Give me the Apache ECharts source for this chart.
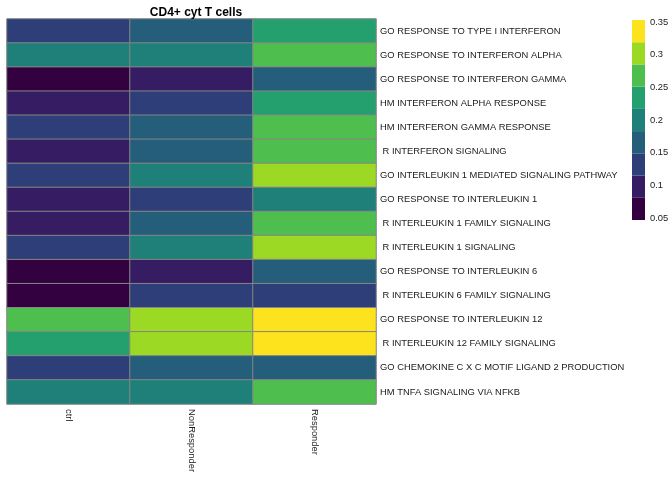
<!DOCTYPE html>
<html>
<head>
<meta charset="utf-8">
<script src="https://cdn.jsdelivr.net/npm/echarts@6/dist/echarts.min.js"></script>
<style>
  html, body { margin: 0; padding: 0; background: #fff; }
  #main { width: 672px; height: 480px; }
</style>
</head>
<body>
<div id="main"></div>
<script>
// columns / rows
var groups = ['ctrl', 'NonResponder', 'Responder'];
var pathways = [
  'GO RESPONSE TO TYPE I INTERFERON',
  'GO RESPONSE TO INTERFERON ALPHA',
  'GO RESPONSE TO INTERFERON GAMMA',
  'HM INTERFERON ALPHA RESPONSE',
  'HM INTERFERON GAMMA RESPONSE',
  ' R INTERFERON SIGNALING',
  'GO INTERLEUKIN 1 MEDIATED SIGNALING PATHWAY',
  'GO RESPONSE TO INTERLEUKIN 1',
  ' R INTERLEUKIN 1 FAMILY SIGNALING',
  ' R INTERLEUKIN 1 SIGNALING',
  'GO RESPONSE TO INTERLEUKIN 6',
  ' R INTERLEUKIN 6 FAMILY SIGNALING',
  'GO RESPONSE TO INTERLEUKIN 12',
  ' R INTERLEUKIN 12 FAMILY SIGNALING',
  'GO CHEMOKINE C X C MOTIF LIGAND 2 PRODUCTION',
  'HM TNFA SIGNALING VIA NFKB'
];
// scores per group (same order as pathways)
var ctrlVals = [0.135, 0.205, 0.062, 0.100, 0.140, 0.095, 0.135, 0.098, 0.100, 0.138, 0.070, 0.066, 0.265, 0.235, 0.130, 0.210];
var nonRespVals = [0.170, 0.200, 0.105, 0.128, 0.165, 0.158, 0.198, 0.125, 0.162, 0.195, 0.102, 0.132, 0.298, 0.292, 0.155, 0.205];
var respVals = [0.238, 0.265, 0.160, 0.232, 0.262, 0.258, 0.300, 0.210, 0.268, 0.296, 0.168, 0.130, 0.345, 0.340, 0.160, 0.272];
// colour breaks + legend labels
var breaks = [0.047, 0.081, 0.115, 0.149, 0.183, 0.217, 0.251, 0.285, 0.319, 0.353];
var legendTicks = [0.05, 0.1, 0.15, 0.2, 0.25, 0.3, 0.35];
var palette = ['#330040', '#361c63', '#2e3e78', '#245e7a', '#1f7f79', '#24a06e', '#4ebf4f', '#9cd925', '#fce31e'];

var font = 'Liberation Sans, Arial, sans-serif';
var cols = [ctrlVals, nonRespVals, respVals];
var cells = [];
cols.forEach(function (arr, c) {
  arr.forEach(function (v, r) { cells.push([c, r, v]); });
});
var pieces = [], legendData = [];
for (var i = 0; i < palette.length; i++) {
  pieces.push({ gte: breaks[i], lt: breaks[i + 1], color: palette[i] });
  legendData.push([0, breaks[i], breaks[i + 1], i]);
}

var chart = echarts.init(document.getElementById('main'));
var option = {
  animation: false,
  title: {
    text: 'CD4+ cyt T cells',
    left: 191, top: 2, textAlign: 'center',
    textStyle: { fontFamily: font, fontSize: 12, fontWeight: 'bold', color: '#000' }
  },
  visualMap: {
    type: 'piecewise', show: false, seriesIndex: 0,
    pieces: pieces
  },
  grid: [
    { left: 7, right: 296, top: 19, bottom: 76 },   // heatmap
    { left: 632, width: 13, top: 20, height: 200 }   // colour key
  ],
  xAxis: [
    {
      type: 'category', gridIndex: 0, data: groups,
      axisLine: { show: false }, axisTick: { show: false }, splitLine: { show: false },
      axisLabel: { rotate: -90, margin: 5, fontFamily: font, fontSize: 9.4, color: '#1a1a1a' }
    },
    {
      type: 'category', gridIndex: 1, data: [''],
      axisLine: { show: false }, axisTick: { show: false }, axisLabel: { show: false }
    }
  ],
  yAxis: [
    {
      type: 'category', gridIndex: 0, data: pathways, inverse: true, position: 'right',
      axisLine: { show: false }, axisTick: { show: false }, splitLine: { show: false },
      axisLabel: { margin: 4, fontFamily: font, fontSize: 9.4, color: '#1a1a1a' }
    },
    {
      type: 'value', gridIndex: 1, position: 'right',
      min: breaks[0], max: breaks[breaks.length - 1],
      axisLine: { show: false }, axisTick: { show: false }, splitLine: { show: false },
      axisLabel: {
        customValues: legendTicks, margin: 5,
        fontFamily: font, fontSize: 9.4, color: '#1a1a1a',
        formatter: function (v) { return String(+v.toFixed(2)); }
      }
    }
  ],
  series: [
    {
      type: 'heatmap', xAxisIndex: 0, yAxisIndex: 0,
      data: cells,
      itemStyle: { borderColor: '#858585', borderWidth: 1 }
    },
    {
      // colour key boxes
      type: 'custom', xAxisIndex: 1, yAxisIndex: 1,
      data: legendData,
      renderItem: function (params, api) {
        var top = api.coord([api.value(0), api.value(2)]);
        var bot = api.coord([api.value(0), api.value(1)]);
        var w = api.size([1, 0])[0];
        return {
          type: 'rect',
          shape: { x: top[0] - w / 2, y: top[1], width: w, height: bot[1] - top[1] },
          style: { fill: palette[api.value(3)] }
        };
      }
    }
  ]
};
chart.setOption(option, true);
</script>
</body>
</html>
